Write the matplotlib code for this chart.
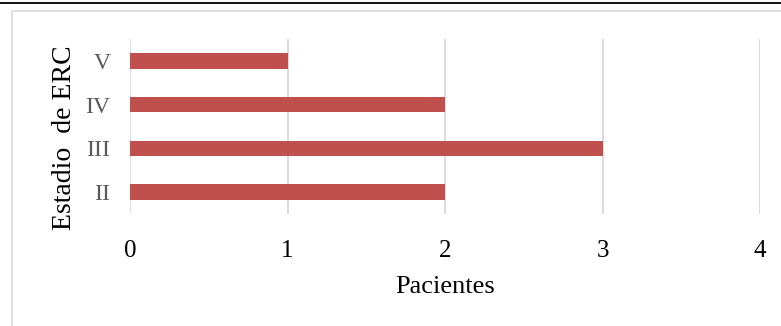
import matplotlib.pyplot as plt
from matplotlib.lines import Line2D
from matplotlib.patches import Rectangle

estadios = ['II', 'III', 'IV', 'V']
pacientes = [2, 3, 2, 1]

plt.rcParams['font.family'] = ['Liberation Serif', 'DejaVu Serif']

fig = plt.figure(figsize=(7.81, 3.26), dpi=100)
ax = fig.add_axes([130 / 781, 1 - 214 / 326, 630 / 781, 175 / 326])

# frame around the chart and rule across the top
fig.add_artist(Rectangle((12 / 781, -0.1), 1.0, 1 - 10.5 / 326 + 0.1,
                         transform=fig.transFigure, fill=False,
                         edgecolor='#d9d9d9', linewidth=1.2))
fig.add_artist(Line2D([0, 1], [1 - 2.5 / 326] * 2, transform=fig.transFigure,
                      color='black', linewidth=1.3))

ax.barh(range(len(estadios)), pacientes, height=0.35, color='#C0504D', zorder=3)

ax.set_xlim(0, 4)
ax.set_ylim(-0.5, 3.5)
ax.set_xticks([0, 1, 2, 3, 4])
ax.set_yticks(range(len(estadios)))
ax.set_yticklabels(estadios)
ax.grid(axis='x', color='#d9d9d9', linewidth=1.3, zorder=0)
for s in ax.spines.values():
    s.set_visible(False)
ax.tick_params(length=0)
ax.tick_params(axis='x', labelsize=18, labelcolor='black', pad=19)
ax.tick_params(axis='y', labelsize=17, labelcolor='#595959', pad=14)

ax.set_xlabel('Pacientes', fontsize=19, labelpad=10)
ax.set_ylabel('Estadio  de ERC', fontsize=20)
ax.yaxis.set_label_coords(-0.084, 0.435)

fig.savefig('out.png', dpi=100)
